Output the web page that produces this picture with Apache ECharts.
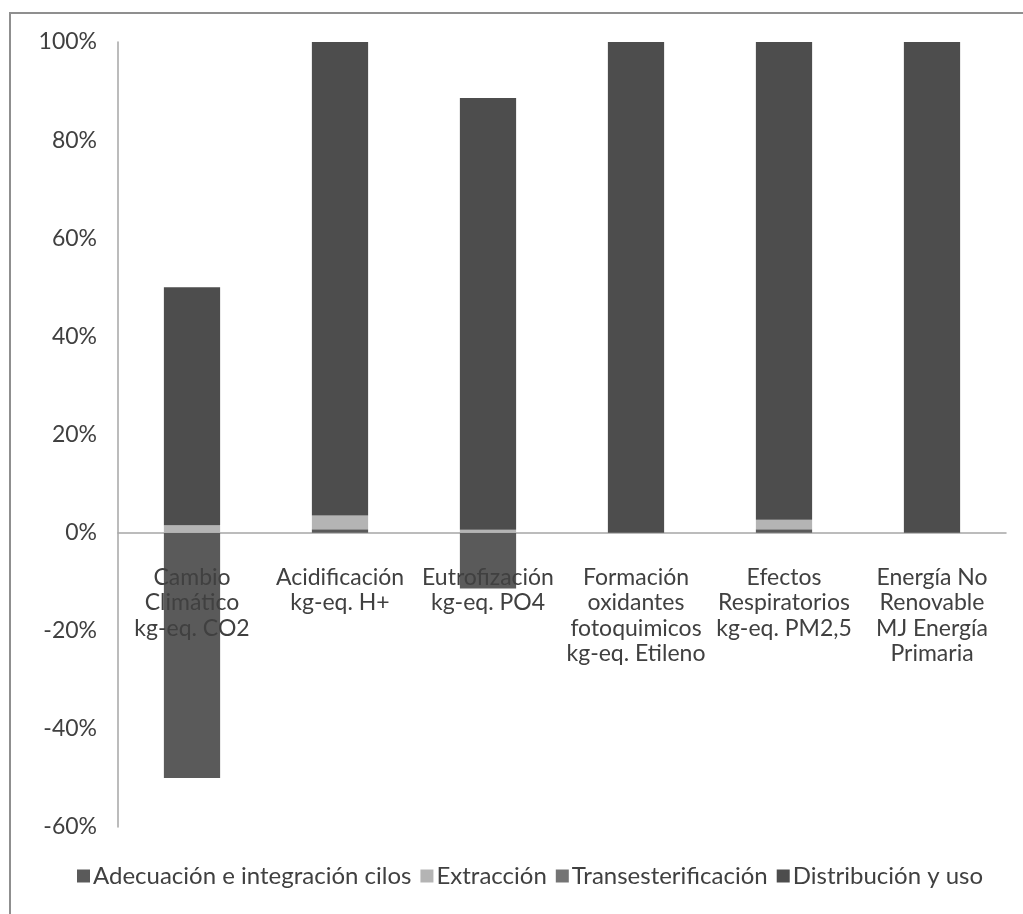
<!DOCTYPE html>
<html>
<head>
<meta charset="utf-8">
<script src="https://cdn.jsdelivr.net/npm/echarts@6/dist/echarts.min.js"></script>
<style>
  html, body { margin: 0; padding: 0; background: #ffffff; }
  #chart { width: 1023px; height: 914px; }
</style>
</head>
<body>
<div id="chart"></div>
<script>
// Impact categories (x axis), one label per category
const categories = [
  'Cambio\nClimático\nkg-eq. CO2',
  'Acidificación\nkg-eq. H+',
  'Eutrofización\nkg-eq. PO4',
  'Formación\noxidantes\nfotoquimicos\nkg-eq. Etileno',
  'Efectos\nRespiratorios\nkg-eq. PM2,5',
  'Energía No\nRenovable\nMJ Energía\nPrimaria'
];

// Contribution of each life-cycle stage, in percent
const adecuacion = [-50, 0.7, -11.4, 0, 0.7, 0];
const extraccion = [1.5, 2.8, 0.6, 0, 1.9, 0];
const transesterificacion = [0, 0, 0, 0, 0, 0];
const distribucion = [48.5, 96.5, 88, 100, 97.4, 100];

// Y axis range and step
const yMin = -60;
const yMax = 100;
const yStep = 20;

const FONT = 'Lato';
const TEXT = '#404040';

const stages = [
  { name: 'Adecuación e integración cilos', data: adecuacion, color: '#5a5a5a' },
  { name: 'Extracción', data: extraccion, color: '#b4b4b4' },
  { name: 'Transesterificación', data: transesterificacion, color: '#747474' },
  { name: 'Distribución y uso', data: distribucion, color: '#4d4d4d' }
];

const GRID_TOP = 42;
const GRID_BOTTOM = 87;
const chartHeight = 914;
const plotHeight = chartHeight - GRID_TOP - GRID_BOTTOM;
// distance from the bottom edge of the plot up to the zero line
const zeroLift = plotHeight * (0 - yMin) / (yMax - yMin);

const chart = echarts.init(document.getElementById('chart'), null, { renderer: 'canvas' });

chart.setOption({
  backgroundColor: '#ffffff',
  animation: false,
  textStyle: { fontFamily: FONT, color: TEXT },
  graphic: [{
    type: 'rect',
    shape: { x: 10, y: 13, width: 1040, height: 1000 },
    style: { fill: 'none', stroke: '#8f8f8f', lineWidth: 2 },
    silent: true,
    z: -10
  }],
  grid: { left: 118, right: 17, top: GRID_TOP, bottom: GRID_BOTTOM, containLabel: false, outerBoundsMode: 'none' },
  legend: {
    bottom: 21,
    left: 72,
    icon: 'rect',
    itemWidth: 13,
    itemHeight: 13,
    itemGap: 9,
    selectedMode: false,
    textStyle: { fontFamily: FONT, fontSize: 24, color: TEXT, padding: [0, 0, 0, -2] },
    data: stages.map(s => s.name)
  },
  xAxis: [{
    // axis line drawn across the zero level
    type: 'category',
    data: categories,
    axisLine: { onZero: true, lineStyle: { color: '#a6a6a6', width: 1.5 } },
    axisTick: { show: false },
    axisLabel: { show: false },
    splitLine: { show: false }
  }, {
    // category names hanging just below the zero level, drawn above the bars
    type: 'category',
    data: categories,
    position: 'bottom',
    offset: -zeroLift,
    z: 10,
    axisLine: { show: false },
    axisTick: { show: false },
    splitLine: { show: false },
    axisLabel: {
      interval: 0,
      margin: 32,
      fontFamily: FONT,
      fontSize: 23,
      lineHeight: 25.5,
      color: TEXT,
      align: 'center',
      verticalAlign: 'top'
    }
  }],
  yAxis: {
    type: 'value',
    min: yMin,
    max: yMax,
    interval: yStep,
    axisLine: { show: true, lineStyle: { color: '#a6a6a6', width: 1.5 } },
    axisTick: { show: false },
    splitLine: { show: false },
    axisLabel: {
      formatter: '{value}%',
      margin: 21,
      fontFamily: FONT,
      fontSize: 23,
      color: TEXT
    }
  },
  series: stages.map(s => ({
    name: s.name,
    type: 'bar',
    stack: 'total',
    xAxisIndex: 0,
    barWidth: '38%',
    data: s.data,
    itemStyle: { color: s.color },
    emphasis: { disabled: true }
  }))
});
</script>
</body>
</html>
